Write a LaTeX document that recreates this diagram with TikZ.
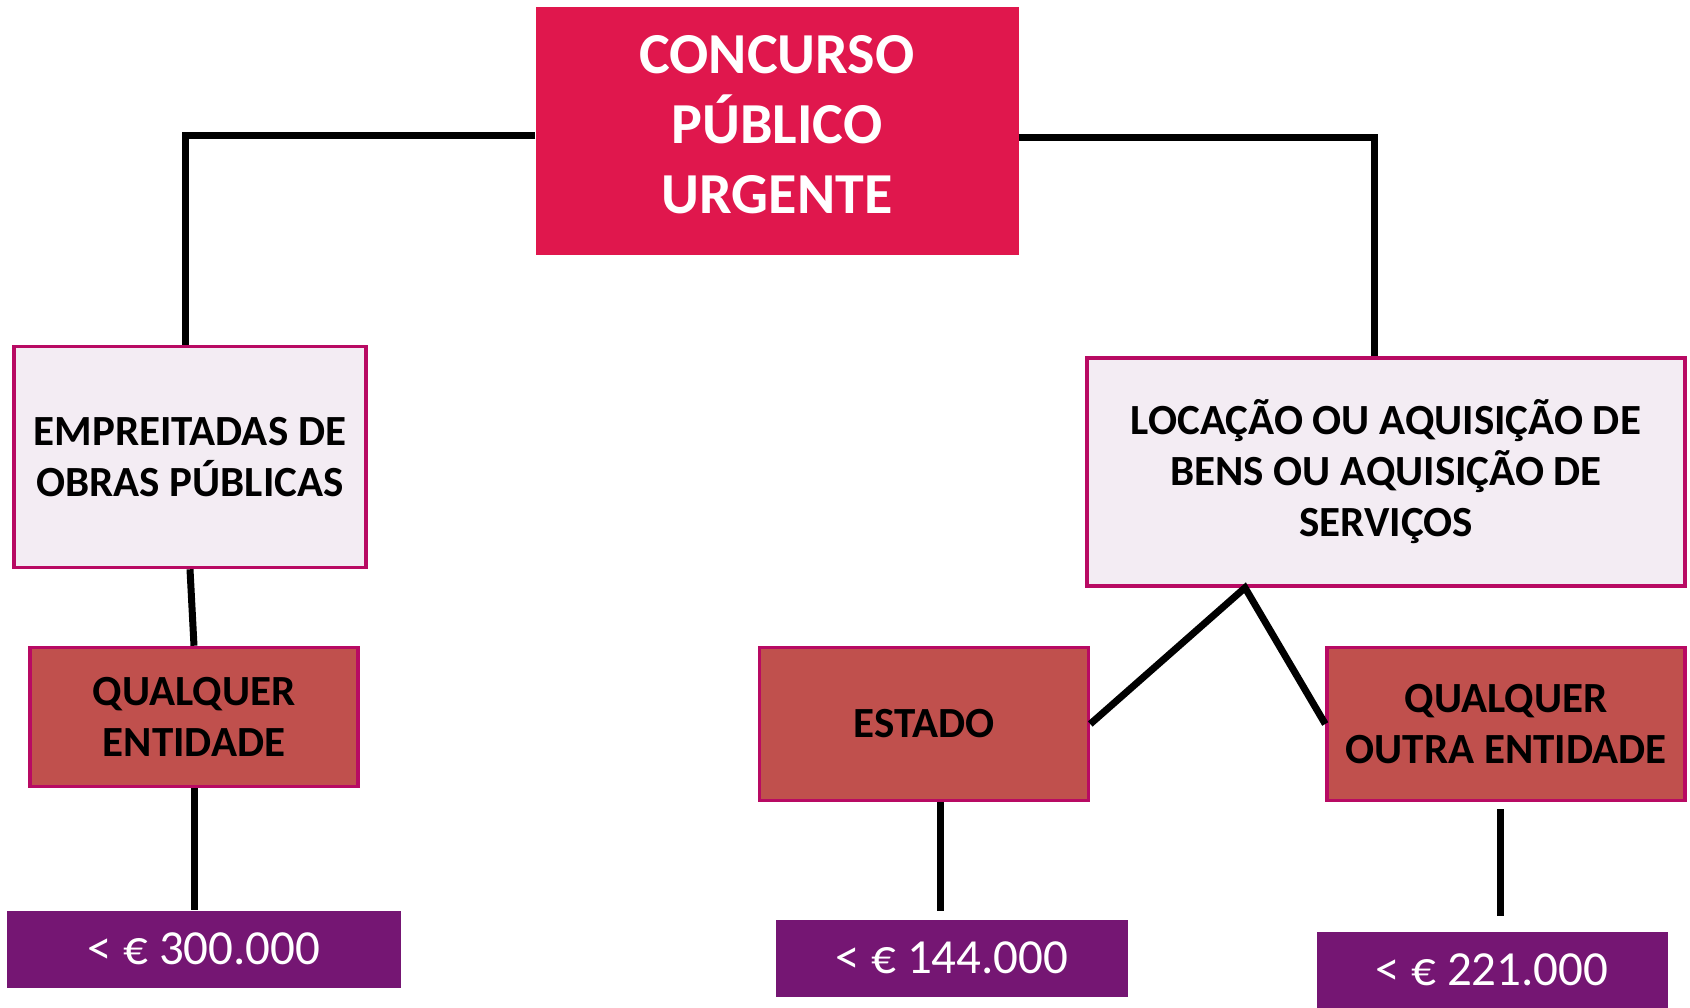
\documentclass[tikz,border=0pt]{standalone}
\usepackage{fontspec}
\setmainfont{Carlito}
\usepackage{tikz}
\definecolor{crimson}{HTML}{E0174D}
\definecolor{lilac}{HTML}{F3ECF3}
\definecolor{bordo}{HTML}{B80A63}
\definecolor{brick}{HTML}{C0504D}
\definecolor{roxo}{HTML}{751673}
\tikzstyle{topo}=[fill=crimson,text=white,inner sep=0pt,minimum width=483pt,minimum height=248pt,text depth=14pt,align=center,font=\fontsize{58}{70}\selectfont\bfseries]
\tikzstyle{cat}=[fill=lilac,draw=bordo,line width=3.5pt,inner sep=0pt,align=center,font=\fontsize{43}{51}\selectfont\bfseries]
\tikzstyle{ent}=[fill=brick,draw=bordo,line width=3.5pt,inner sep=0pt,align=center,font=\fontsize{43}{51}\selectfont\bfseries]
\tikzstyle{val}=[fill=roxo,text=white,inner sep=0pt,minimum height=77pt,font=\fontsize{49}{58}\selectfont]
\tikzstyle{ln}=[line width=7pt]

\begin{document}
\begin{tikzpicture}[x=1pt,y=-1pt]
\useasboundingbox (0,0) rectangle (1690,1008);
\node[topo] (top) at (777,131) {CONCURSO\\PÚBLICO\\URGENTE};
\node[cat,minimum width=352pt,minimum height=221pt] (obras) at (190,457) {EMPREITADAS DE\\OBRAS PÚBLICAS};
\node[ent,minimum width=328pt,minimum height=139pt] (qualquer) at (194,717) {QUALQUER\\ENTIDADE};
\node[val,minimum width=394pt] (v300) at (204,949) {< € 300.000};
\node[cat,minimum width=598pt,minimum height=228pt] (bens) at (1386,472) {LOCAÇÃO OU AQUISIÇÃO DE\\BENS OU AQUISIÇÃO DE\\SERVIÇOS};
\node[ent,minimum width=329pt,minimum height=153pt] (estado) at (924,724) {ESTADO};
\node[ent,minimum width=358pt,minimum height=153pt] (outra) at (1506,724) {QUALQUER\\OUTRA ENTIDADE};
\node[val,minimum width=352pt] (v144) at (952,958) {< € 144.000};
\node[val,minimum width=351pt] (v221) at (1492,970) {< € 221.000};
\coordinate (apex) at ([xshift=-141pt]bens.south);
\draw[ln] ([yshift=-5pt]top.west) -| ([xshift=-5pt]obras.north);
\draw[ln] ([yshift=-7pt]top.east) -| ([xshift=-12pt]bens.north);
\draw[ln] (obras.south) -- (qualquer.north);
\draw[ln] (qualquer.south) -- (qualquer.south |- v300.north);
\draw[ln] (estado.east) -- (apex) -- (outra.west);
\draw[ln] ([xshift=16pt]estado.south) -- ([xshift=16pt,yshift=8pt]estado.south |- v144.north);
\draw[ln] ([xshift=-6pt,yshift=-7pt]outra.south) -- ([xshift=-6pt,yshift=15pt]outra.south |- v221.north);
\end{tikzpicture}
\end{document}
